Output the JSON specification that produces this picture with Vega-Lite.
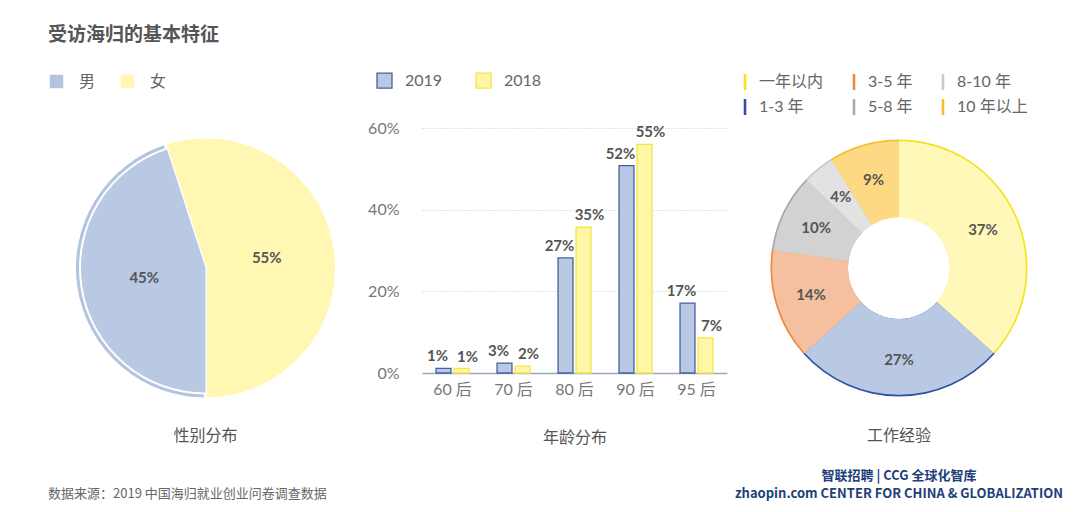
{
  "$schema": "https://vega.github.io/schema/vega-lite/v6.json",
  "background": "white",
  "padding": {"left": 11, "top": 26, "right": 0, "bottom": 0},
  "config": {
    "font": "Lato, Noto Sans CJK SC",
    "view": {"stroke": null},
    "legend": {"labelFontSize": 16, "labelColor": "#666666", "title": null, "orient": "none", "direction": "horizontal"}
  },
  "title": {"text": "受访海归的基本特征", "anchor": "start", "fontSize": 19, "fontWeight": "bold", "color": "#555555", "font": "Noto Sans CJK SC", "offset": 27, "dx": 37},
  "vconcat": [
    {
      "bounds": "flush",
      "spacing": 22,
      "title": {"text": "数据来源：2019 中国海归就业创业问卷调查数据", "orient": "bottom", "anchor": "start", "fontSize": 13, "fontWeight": "normal", "color": "#666666", "font": "Noto Sans CJK SC", "offset": -13, "dx": 37},
      "resolve": {
        "scale": {"color": "independent", "fill": "independent", "stroke": "independent", "theta": "independent"},
        "legend": {"color": "independent", "fill": "independent", "stroke": "independent"}
      },
      "hconcat": [
        {
          "width": 389,
          "height": 280,
          "title": {"text": "性别分布", "orient": "bottom", "fontSize": 16, "fontWeight": "normal", "color": "#555555", "font": "Noto Sans CJK SC", "offset": 20},
          "data": {"values": [
            {"sex": "男", "pct": 45, "label": "45%", "idx": 1},
            {"sex": "女", "pct": 55, "label": "55%", "idx": 2}
          ]},
          "encoding": {
            "theta": {"field": "pct", "type": "quantitative", "stack": true, "scale": {"range": [3.14159, 9.42478]}},
            "order": {"field": "idx"}
          },
          "layer": [
            {
              "mark": {"type": "arc", "outerRadius": 131, "stroke": "white", "strokeWidth": 3},
              "encoding": {
                "color": {"field": "sex", "type": "nominal",
                  "scale": {"domain": ["男", "女"], "range": ["#b4c3df", "#fff7b2"]},
                  "legend": {"symbolType": "square", "symbolSize": 225, "labelOffset": 14, "columnPadding": 21, "legendX": 37, "legendY": -55}
                }
              }
            },
            {
              "mark": {"type": "arc", "outerRadius": 126.5},
              "encoding": {
                "fill": {"condition": {"test": "datum.sex === '男'", "value": "white"}, "value": "transparent"}
              }
            },
            {
              "mark": {"type": "arc", "outerRadius": 124.5},
              "encoding": {
                "fill": {"condition": {"test": "datum.sex === '男'", "value": "#b9c8e3"}, "value": "transparent"}
              }
            },
            {
              "mark": {"type": "text", "radius": 62, "fontSize": 15, "fontWeight": "bold", "fill": "#555555"},
              "encoding": {"text": {"field": "label"}}
            }
          ]
        },
        {
          "width": 305,
          "height": 245,
          "data": {"values": [
            {"age": "60 后", "year": "2019", "value": 1.15, "label": "1%"},
            {"age": "60 后", "year": "2018", "value": 1.1, "label": "1%"},
            {"age": "70 后", "year": "2019", "value": 2.4, "label": "3%"},
            {"age": "70 后", "year": "2018", "value": 1.7, "label": "2%"},
            {"age": "80 后", "year": "2019", "value": 28.2, "label": "27%"},
            {"age": "80 后", "year": "2018", "value": 35.7, "label": "35%"},
            {"age": "90 后", "year": "2019", "value": 50.8, "label": "52%"},
            {"age": "90 后", "year": "2018", "value": 56.0, "label": "55%"},
            {"age": "95 后", "year": "2019", "value": 17.1, "label": "17%"},
            {"age": "95 后", "year": "2018", "value": 8.6, "label": "7%"}
          ]},
          "encoding": {
            "x": {"field": "age", "type": "nominal", "sort": null,
              "scale": {"paddingInner": 0.46, "paddingOuter": 0.23},
              "axis": {"title": "年龄分布", "titleFontSize": 16, "titleFontWeight": "normal", "titleColor": "#555555", "titleFont": "Noto Sans CJK SC", "titlePadding": 32,
                "labelAngle": 0, "labelFontSize": 16, "labelColor": "#777777", "labelPadding": 8, "ticks": false,
                "domainColor": "#9aa6c2", "domainWidth": 1.5}
            },
            "xOffset": {"field": "year", "type": "nominal", "sort": ["2019", "2018"], "scale": {"paddingInner": 0.17, "paddingOuter": 0}},
            "y": {"field": "value", "type": "quantitative",
              "scale": {"domain": [0, 60]},
              "axis": {"title": null, "values": [0, 20, 40, 60], "labelExpr": "datum.value + '%'", "labelFontSize": 16, "labelColor": "#777777", "labelPadding": 23,
                "ticks": false, "domain": false, "gridColor": "#c8c8c8", "gridDash": [1, 2], "gridWidth": 1}
            }
          },
          "layer": [
            {
              "mark": {"type": "bar", "strokeWidth": 1.3},
              "encoding": {
                "fill": {"field": "year", "type": "nominal",
                  "scale": {"domain": ["2019", "2018"], "range": ["#b9c8e3", "#fff7a6"]},
                  "legend": {"symbolType": "square", "symbolSize": 225, "symbolStrokeWidth": 1.3, "labelOffset": 12, "columnPadding": 30, "legendX": -46, "legendY": -56}
                },
                "stroke": {"field": "year", "type": "nominal",
                  "scale": {"domain": ["2019", "2018"], "range": ["#44629f", "#f4e54a"]},
                  "legend": {"symbolType": "square", "symbolSize": 225, "symbolStrokeWidth": 1.3, "labelOffset": 12, "columnPadding": 30, "legendX": -46, "legendY": -56}
                }
              }
            },
            {
              "transform": [{"filter": "datum.year === '2019'"}],
              "mark": {"type": "text", "baseline": "bottom", "dy": -4, "dx": -6, "fontSize": 15, "fontWeight": "bold", "fill": "#555555"},
              "encoding": {"text": {"field": "label"}}
            },
            {
              "transform": [{"filter": "datum.year === '2018'"}],
              "mark": {"type": "text", "baseline": "bottom", "dy": -4, "dx": 6, "fontSize": 15, "fontWeight": "bold", "fill": "#555555"},
              "encoding": {"text": {"field": "label"}}
            }
          ]
        },
        {
          "width": 300,
          "height": 280,
          "title": {"text": "工作经验", "orient": "bottom", "fontSize": 16, "fontWeight": "normal", "color": "#555555", "font": "Noto Sans CJK SC", "offset": 20,
            "subtitle": ["智联招聘  |  CCG 全球化智库", "zhaopin.com   CENTER FOR CHINA & GLOBALIZATION"],
            "subtitleFontSize": 13, "subtitleFontWeight": "bold", "subtitleColor": "#1f3f7a", "subtitlePadding": 26, "subtitleLineHeight": 18, "subtitleFont": "Noto Sans CJK SC"},
          "data": {"values": [
            {"cat": "一年以内", "pct": 37, "label": "37%", "idx": 1},
            {"cat": "1-3 年", "pct": 27, "label": "27%", "idx": 2},
            {"cat": "3-5 年", "pct": 14, "label": "14%", "idx": 3},
            {"cat": "5-8 年", "pct": 10, "label": "10%", "idx": 4},
            {"cat": "8-10 年", "pct": 4, "label": "4%", "idx": 5},
            {"cat": "10 年以上", "pct": 9, "label": "9%", "idx": 6}
          ]},
          "encoding": {
            "theta": {"field": "pct", "type": "quantitative", "stack": true},
            "order": {"field": "idx"}
          },
          "layer": [
            {
              "mark": {"type": "arc", "outerRadius": 128.5, "innerRadius": 51},
              "encoding": {
                "color": {"field": "cat", "type": "nominal",
                  "scale": {"domain": ["一年以内", "3-5 年", "8-10 年", "1-3 年", "5-8 年", "10 年以上"],
                    "range": ["#f5e31c", "#ec8a3e", "#c9c9c9", "#2d52a0", "#a9a9a9", "#f4c02e"]},
                  "legend": {"columns": 3, "symbolType": "M-0.16,-1H0.16V1H-0.16Z", "symbolSize": 256, "symbolStrokeWidth": 0, "labelOffset": 6, "columnPadding": 22, "rowPadding": 9, "legendX": -12, "legendY": -54}
                }
              }
            },
            {
              "mark": {"type": "arc", "outerRadius": 126.8, "innerRadius": 51},
              "encoding": {
                "fill": {"field": "cat", "type": "nominal", "legend": null,
                  "scale": {"domain": ["一年以内", "3-5 年", "8-10 年", "1-3 年", "5-8 年", "10 年以上"],
                    "range": ["#fff8b8", "#f5c0a0", "#e2e2e2", "#b9c8e3", "#d2d2d2", "#fdd984"]}
                }
              }
            },
            {
              "mark": {"type": "text", "radius": 92, "fontSize": 15, "fontWeight": "bold", "fill": "#555555"},
              "encoding": {"text": {"field": "label"}}
            }
          ]
        }
      ]
    }
  ]
}
